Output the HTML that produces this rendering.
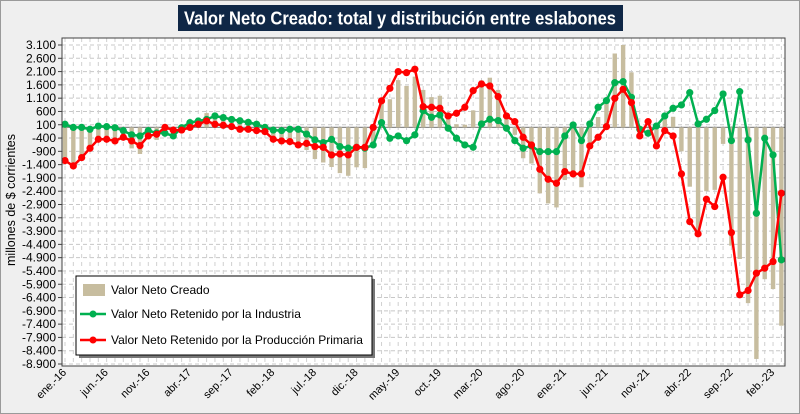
<!DOCTYPE html>
<html><head><meta charset="utf-8">
<style>
html,body{margin:0;padding:0;}
body{width:800px;height:414px;background:#f0f0f0;font-family:"Liberation Sans",sans-serif;overflow:hidden;}
#wrap{position:absolute;left:0;top:0;width:798px;height:412px;border:1px solid #9a9a9a;background:#efefef;}
</style></head>
<body>
<div id="wrap">
<svg id="chart" width="800" height="414" viewBox="0 0 800 414" style="position:absolute;left:-1px;top:-1px">
  <rect x="178" y="5" width="445" height="26" fill="#0f2746"/>
  <text x="400" y="24.5" text-anchor="middle" font-size="18" font-weight="bold" fill="#fff" textLength="432" lengthAdjust="spacingAndGlyphs">Valor Neto Creado: total y distribución entre eslabones</text>
  <rect x="62" y="38" width="723" height="328" fill="#fff" stroke="none"/>
  <g id="grid"></g>
  <line id="zero" stroke="#8a8a8a" stroke-width="1.2"/>
  <g id="bars"></g>
  <g id="lines"></g>
  <rect x="62" y="38" width="723" height="328" fill="none" stroke="#404040" stroke-width="1"/>
  <g id="yaxis"></g>
  <g id="xaxis"></g>
  <text transform="translate(15,200) rotate(-90)" text-anchor="middle" font-size="12.5" fill="#000">millones de $ corrientes</text>
  <g>
    <rect x="79" y="279" width="296" height="79" fill="#777"/>
    <rect x="76" y="276" width="296" height="79" fill="#fff" stroke="#000" stroke-width="1"/>
    <rect x="83" y="284" width="22" height="12" fill="#c7bd9f"/>
    <text x="111" y="294" font-size="12">Valor Neto Creado</text>
    <line x1="80" y1="314" x2="106" y2="314" stroke="#00b050" stroke-width="2.5"/>
    <circle cx="93" cy="314" r="3.5" fill="#00b050"/>
    <text x="111" y="318" font-size="12">Valor Neto Retenido por la Industria</text>
    <line x1="80" y1="340" x2="106" y2="340" stroke="#ff0000" stroke-width="2.5"/>
    <circle cx="93" cy="340" r="3.5" fill="#ff0000"/>
    <text x="111" y="344" font-size="12">Valor Neto Retenido por la Producción Primaria</text>
  </g>
</svg>
</div>
<script>
const xLabels = ["ene.-16","jun.-16","nov.-16","abr.-17","sep.-17","feb.-18","jul.-18","dic.-18","may.-19","oct.-19","mar.-20","ago.-20","ene.-21","jun.-21","nov.-21","abr.-22","sep.-22","feb.-23"];
const yTicks = [3100,2600,2100,1600,1100,600,100,-400,-900,-1400,-1900,-2400,-2900,-3400,-3900,-4400,-4900,-5400,-5900,-6400,-6900,-7400,-7900,-8400,-8900];
const totalValues = [-1130,-1450,-1140,-850,-400,-420,-520,-490,-790,-1000,-440,-470,-220,-420,-110,180,360,540,550,450,330,180,120,0,-160,-550,-630,-600,-730,-850,-1190,-1320,-1490,-1720,-1820,-1500,-1530,-660,900,1060,1780,1560,1910,1410,1140,1190,400,120,100,640,1770,1870,1410,400,-280,-1160,-1360,-2480,-2860,-3010,-1980,-1660,-2250,-570,390,1040,2780,3100,2070,-390,0,-640,310,400,-900,-2230,-3870,-2400,-2350,-620,-4450,-4950,-6610,-8710,-5710,-6080,-7460];
const industriaValues = [118,0,0,-70,50,30,-10,-120,-280,-320,-120,-210,-220,-320,-10,180,240,300,430,370,300,250,190,120,0,-100,-120,-70,-70,-250,-470,-570,-450,-720,-780,-750,-780,-660,180,-410,-320,-500,-280,632,381,469,-32,-408,-659,-747,131,306,256,-32,-496,-784,-697,-910,-910,-910,-321,93,-496,131,757,1008,1684,1722,1133,-70,-220,55,431,720,845,1308,131,306,632,1258,-496,1346,-471,-3228,-409,-1035,-4982];
const primariaValues = [-1248,-1448,-1135,-784,-446,-446,-508,-370,-508,-684,-320,-258,0,-100,-100,0,118,243,118,80,30,-70,-70,-120,-158,-446,-508,-534,-660,-600,-720,-750,-1035,-1000,-1035,-750,-750,0,1000,1470,2100,2060,2190,782,757,720,431,532,757,1384,1634,1559,1158,431,218,-371,-659,-1574,-1950,-2100,-1661,-1749,-1749,-697,-371,30,1095,1434,933,-321,218,-697,-120,-321,-1749,-3541,-4005,-2702,-2978,-1875,-3955,-6298,-6135,-5484,-5296,-5045,-2476];

const NS = "http://www.w3.org/2000/svg";
const X0 = 65, DX = 8.33;
const xPos = i => X0 + i * DX;
const yPos = v => 45 + (3100 - v) * 319 / 12000;
function mk(tag, attrs, parent){ const e = document.createElementNS(NS, tag); for (const k in attrs) e.setAttribute(k, attrs[k]); parent.appendChild(e); return e; }

const grid = document.getElementById('grid');
for (const t of yTicks) {
  const g = mk('line', {x1:62, x2:785, y1:yPos(t), y2:yPos(t), stroke:'#c8c8c8', 'stroke-width':1, 'stroke-dasharray':'4,3'}, grid);
  
  
}
for (let i = 0; i < totalValues.length; i++) {
  const g = mk('line', {x1:xPos(i), x2:xPos(i), y1:38, y2:366, stroke:'#d0d0d0', 'stroke-width':1, 'stroke-dasharray':'4,4'}, grid);
  
  
}
const z = document.getElementById('zero');
z.setAttribute('x1', 62); z.setAttribute('x2', 785); z.setAttribute('y1', yPos(0)); z.setAttribute('y2', yPos(0));

const bars = document.getElementById('bars');
totalValues.forEach((v, i) => {
  const y0 = yPos(0), y1 = yPos(v);
  const r = mk('rect', {x:xPos(i) - 2.2, y:Math.min(y0, y1), width:4.4, height:Math.abs(y1 - y0), fill:'#c7bd9f'}, bars);
  
  
});

const lines = document.getElementById('lines');
function drawSeries(vals, color, name){
  const pts = vals.map((v, i) => xPos(i).toFixed(1) + ',' + yPos(v).toFixed(1)).join(' ');
  const pl = mk('polyline', {points:pts, fill:'none', stroke:color, 'stroke-width':2.5, 'stroke-linejoin':'round'}, lines);
  
  
  vals.forEach((v, i) => {
    const c = mk('circle', {cx:xPos(i), cy:yPos(v), r:3.6, fill:color}, lines);
    
    
  });
}
drawSeries(industriaValues, '#00b050', 'industria');
drawSeries(primariaValues, '#ff0000', 'primaria');

const yax = document.getElementById('yaxis');
yTicks.forEach(t => {
  const s = Math.abs(t) >= 1000 ? (t < 0 ? '-' : '') + Math.floor(Math.abs(t) / 1000) + '.' + String(Math.abs(t) % 1000).padStart(3, '0') : String(t);
  const tx = mk('text', {x:56, y:yPos(t) + 4, 'text-anchor':'end', 'font-size':12, fill:'#000'}, yax);
  tx.textContent = s;
  
  
  const tk = mk('line', {x1:58, x2:62, y1:yPos(t), y2:yPos(t), stroke:'#404040'}, yax);
  
  
});
const xax = document.getElementById('xaxis');
xLabels.forEach((l, k) => {
  const x = xPos(k * 5);
  const tx = mk('text', {transform:'translate(' + (x + 2) + ',373) rotate(-45)', 'text-anchor':'end', 'font-size':11, fill:'#000'}, xax);
  tx.textContent = l;
  
  
});
</script>
</body></html>
